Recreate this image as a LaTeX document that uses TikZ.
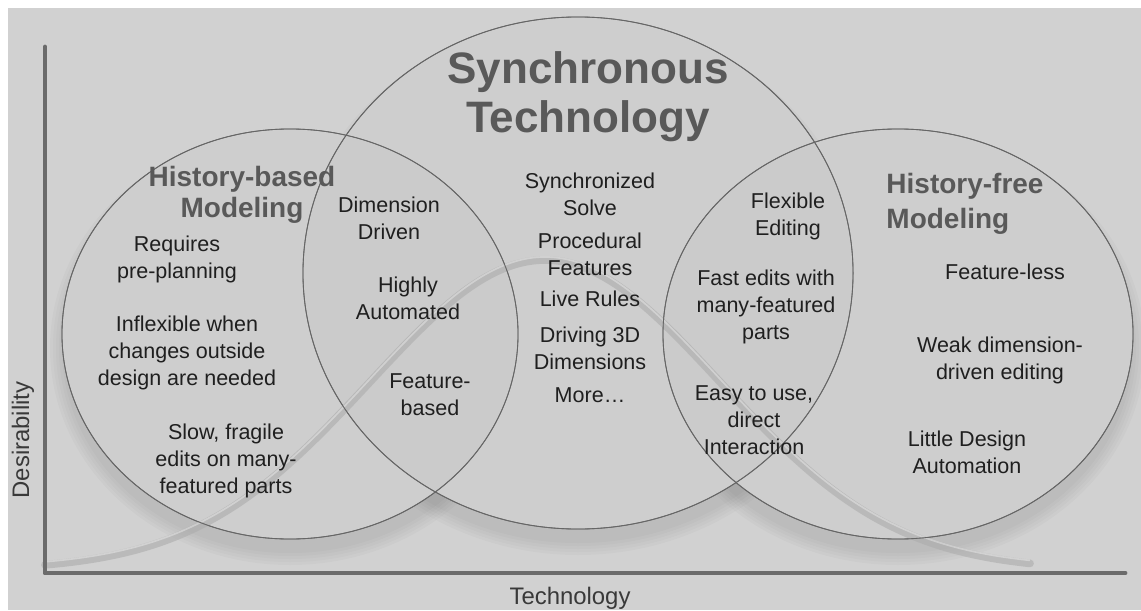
\documentclass[tikz,border=0pt]{standalone}
\usepackage{fontspec}
\setmainfont{Liberation Sans}
\usetikzlibrary{shapes.geometric,positioning}

\newcommand\itemfont{\fontsize{15.3}{19.2}\selectfont}
\newcommand\headfont{\fontsize{19.9}{22.5}\selectfont\bfseries}
\newcommand\titlefont{\fontsize{31.3}{35}\selectfont\bfseries}
\newcommand\axisfont{\fontsize{17}{20}\selectfont}

\definecolor{bggray}{gray}{0.82}
\definecolor{headgray}{gray}{0.35}
\definecolor{axisgray}{gray}{0.42}

\begin{document}
\begin{tikzpicture}[
    x=0.025cm, y=-0.025cm,
    every node/.style={font=\itemfont, text=black!88, align=center},
    set/.style={ellipse, draw=gray!80!black, line width=0.6pt, inner sep=0pt, fill=gray!60, fill opacity=0.08},
    heading/.style={font=\headfont, text=headgray},
    axis/.style={line width=3.5pt, draw=axisgray, line cap=round, line join=round},
    axislabel/.style={font=\axisfont, text=gray!45!black},
    bell/.style={line width=5.5pt, draw=gray!65, draw opacity=0.6, line cap=round}
]
\useasboundingbox (0,0) rectangle (1141,610);
\fill[white] (0,0) rectangle (1141,610);
\fill[bggray] (8,8) rectangle (1141,610);

% soft shadows below the sets, then covered inside
\foreach \cx/\cy/\rx/\ry in {290/334/228/205, 578/273/275/256, 898/334/235/205}
  \foreach \r in {0,3,...,12}
    \fill[black, opacity=0.02] (\cx,\cy+14) ellipse [x radius=\rx+\r, y radius=\ry+\r];
\foreach \cx/\cy/\rx/\ry in {290/334/228/205, 578/273/275/256, 898/334/235/205}
  \fill[bggray] (\cx,\cy) ellipse [x radius=\rx, y radius=\ry];

% the three approaches
\node[set, minimum width=11.4cm, minimum height=10.25cm] (based) at (290,334) {};
\node[set, minimum width=13.75cm, minimum height=12.8cm] (sync) at (578,273) {};
\node[set, minimum width=11.75cm, minimum height=10.25cm] (free) at (898,334) {};

% desirability curve
\draw[bell] plot[domain=45:1030, samples=120, smooth] (\x, {570-310*exp(-((\x-545)/175)^2/2)});
\draw[line width=1.2pt, draw=white, draw opacity=0.35] plot[domain=45:1030, samples=120, smooth] (\x, {567-310*exp(-((\x-545)/175)^2/2)});

% outlines again on top of the curve
\draw[gray!80!black, line width=0.6pt] (based.center) ellipse [x radius=228, y radius=205];
\draw[gray!80!black, line width=0.6pt] (sync.center) ellipse [x radius=275, y radius=256];
\draw[gray!80!black, line width=0.6pt] (free.center) ellipse [x radius=235, y radius=205];

% axes
\coordinate (ytop) at (45,47);
\coordinate (origin) at (45,573);
\coordinate (xend) at (1125,573);
\draw[axis] (ytop) -- (origin) -- (xend);
\node[axislabel, rotate=90] (desir) at (23,440) {Desirability};
\node[axislabel] (tech) at (570,598) {Technology};

% headings
\node[font=\titlefont, text=headgray] (synctitle) at (588,97) {Synchronous\\Technology};
\node[heading] (basedtitle) at (242,195) {History-based\\Modeling};
\node[heading, align=left, font=\fontsize{19.9}{25}\selectfont\bfseries] (freetitle) at (965,204) {History-free\\Modeling};

% history-based only
\node (req) at (177,259) {Requires\\pre-planning};
\node (infl) at (187,353) {Inflexible when\\changes outside\\design are needed};
\node (slow) at (226,461) {Slow, fragile\\edits on many-\\featured parts};

% shared with history-based
\node (dim) at (389,218) {Dimension\\Driven};
\node (auto) at (408,298) {Highly\\Automated};
\node (feat) at (430,395) {Feature-\\based};

% synchronous only
\node (solve) at (590,194) {Synchronized\\Solve};
\node (proc) at (590,254) {Procedural\\Features};
\node (live) at (590,299) {Live Rules};
\node (drive) at (590,348) {Driving 3D\\Dimensions};
\node (more) at (590,395) {More\ldots};

% shared with history-free
\node (flex) at (788,216) {Flexible\\Editing};
\node (fast) at (766,307) {Fast edits with\\many-featured\\parts};
\node (easy) at (754,420) {Easy to use,\\direct\\Interaction};

% history-free only
\node (fless) at (1005,272) {Feature-less};
\node (weak) at (1000,360) {Weak dimension-\\driven editing};
\node (little) at (967,452) {Little Design\\Automation};
\end{tikzpicture}
\end{document}
